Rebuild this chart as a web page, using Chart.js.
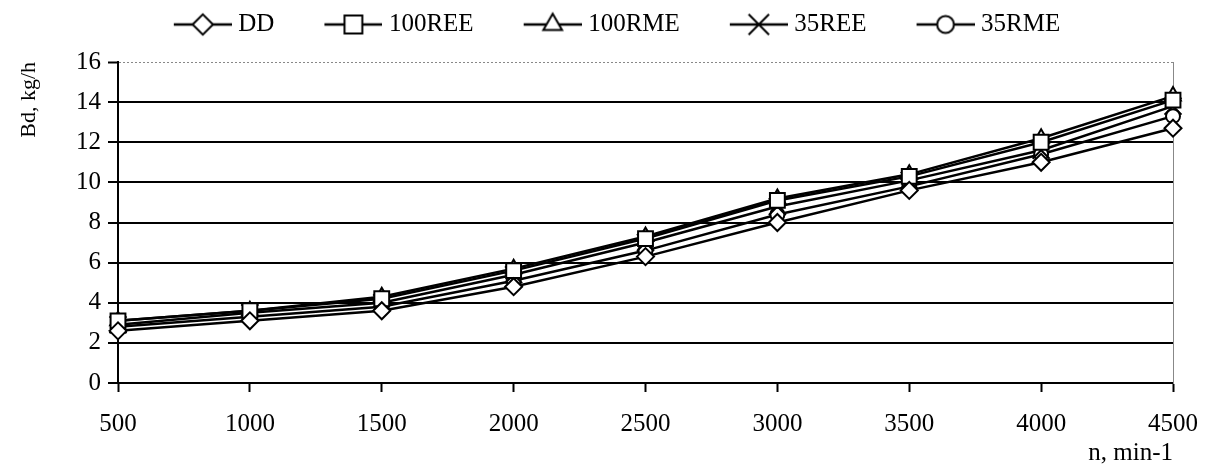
<!DOCTYPE html>
<html>
<head>
<meta charset="utf-8">
<script src="https://cdn.jsdelivr.net/npm/chart.js@4.4.0/dist/chart.umd.min.js"></script>
<style>
  html, body { margin: 0; padding: 0; background: #fff; }
</style>
</head>
<body>
<canvas id="chart" width="1210" height="466"></canvas>
<script>
// данні
const rpmLabels = ['500', '1000', '1500', '2000', '2500', '3000', '3500', '4000', '4500'];
const ddVals     = [2.6, 3.1, 3.6, 4.8, 6.3, 8.0, 9.6, 11.0, 12.7];
const ree100Vals = [3.1, 3.6, 4.2, 5.6, 7.2, 9.1, 10.3, 12.0, 14.1];
const rme100Vals = [3.1, 3.6, 4.3, 5.7, 7.3, 9.2, 10.4, 12.2, 14.3];
const ree35Vals  = [2.9, 3.5, 4.0, 5.4, 7.0, 8.8, 10.1, 11.6, 13.8];
const rme35Vals  = [2.8, 3.3, 3.8, 5.1, 6.6, 8.4, 9.8, 11.4, 13.3];
const seriesNames = ['DD', '100REE', '100RME', '35REE', '35RME'];
const yMin = 0, yMax = 16, yStep = 2;

const seriesData = [ddVals, ree100Vals, rme100Vals, ree35Vals, rme35Vals];
const markers = [
    { style: 'rectRot', r: 8.5 },
    { style: 'rect', r: 10.5 },
    { style: 'triangle', r: 9 },
    { style: 'crossRot', r: 12 },
    { style: 'circle', r: 7 }
];
const FONT = "'Liberation Serif', 'Times New Roman', serif";

// іконка легенди: лінія + маркер
function legendIcon(m) {
    const c = document.createElement('canvas');
    c.width = 64; c.height = 30;
    const g = c.getContext('2d');
    g.strokeStyle = '#000';
    g.lineWidth = 2.5;
    g.beginPath(); g.moveTo(6, 15); g.lineTo(64, 15); g.stroke();
    g.fillStyle = '#fff';
    g.lineWidth = 2;
    Chart.helpers.drawPoint(g, { pointStyle: m.style, radius: m.r * 1.2, borderWidth: 2, rotation: 0 }, 35, 15);
    return c;
}
const icons = markers.map(legendIcon);

// місце легенди як на оригіналі
const legendGap = {
    id: 'legendGap',
    beforeLayout(chart) {
        const lg = chart.legend;
        if (lg && !lg._gapPatched) {
            const fit = lg.fit;
            lg.fit = function () { fit.call(this); this.height = 100; };
            lg._gapPatched = true;
        }
    },
    afterLayout(chart) {
        const lg = chart.legend;
        lg.left = 0;
        lg.right = 1234;
    }
};

const lineSets = seriesData.map((d, i) => ({
    label: seriesNames[i] + ' line',
    data: d,
    borderColor: '#000',
    borderWidth: 2.5,
    pointRadius: 0,
    tension: 0,
    order: 1
}));
const markerSets = seriesData.map((d, i) => ({
    label: seriesNames[i],
    data: d,
    showLine: false,
    pointStyle: markers[i].style,
    pointRadius: markers[i].r,
    pointBackgroundColor: '#fff',
    pointBorderColor: '#000',
    pointBorderWidth: 2,
    clip: false,
    order: 0
}));

new Chart(document.getElementById('chart'), {
    type: 'line',
    data: { labels: rpmLabels, datasets: lineSets.concat(markerSets) },
    plugins: [legendGap],
    options: {
        responsive: false,
        animation: false,
        events: [],
        layout: { autoPadding: false, padding: { top: -38, right: 37, left: 0, bottom: 0 } },
        plugins: {
            tooltip: { enabled: false },
            legend: {
                position: 'top',
                labels: {
                    usePointStyle: true,
                    pointStyleWidth: 52,
                    boxHeight: 24,
                    padding: 50,
                    color: '#000',
                    font: { family: FONT, size: 25 },
                    generateLabels: () => seriesNames.map((n, i) => ({
                        text: n,
                        pointStyle: icons[i],
                        fillStyle: '#fff',
                        strokeStyle: '#000',
                        lineWidth: 0,
                        hidden: false,
                        fontColor: '#000',
                        datasetIndex: 5 + i
                    }))
                }
            }
        },
        scales: {
            x: {
                type: 'category',
                offset: false,
                grid: { drawOnChartArea: false, drawTicks: true, tickLength: 9, tickColor: '#000', tickWidth: 2, color: '#000' },
                border: { color: '#000', width: 2 },
                ticks: { color: '#000', font: { family: FONT, size: 25, lineHeight: 1.6 }, padding: 12, maxRotation: 0, autoSkip: false },
                title: { display: true, text: 'n, min-1', align: 'end', color: '#000', font: { family: FONT, size: 25, lineHeight: 1 }, padding: 0 },
                afterFit: s => { s.height = 83; }
            },
            y: {
                min: yMin, max: yMax,
                ticks: { stepSize: yStep, color: '#000', font: { family: FONT, size: 25 }, padding: 7 },
                grid: {
                    color: c => c.tick && c.tick.value === yMax ? '#888' : '#000',
                    lineWidth: c => c.tick && c.tick.value === yMax ? 1 : 2,
                    tickColor: '#000', tickLength: 10, tickWidth: 2
                },
                border: {
                    color: '#000', width: 2,
                    dash: c => c.tick && c.tick.value === yMax ? [2, 2] : []
                },
                title: { display: true, text: 'Bd, kg/h', align: 'end', color: '#000', font: { family: FONT, size: 22 }, padding: { top: 16, bottom: 0 } },
                afterFit: s => { s.width = 118; }
            },
            y2: {
                position: 'right',
                min: yMin, max: yMax,
                ticks: { display: false },
                grid: { display: false, drawTicks: false },
                border: { display: true, color: '#888', width: 1, dash: [2, 2] },
                afterFit: s => { s.width = 0; }
            }
        }
    }
});
</script>
</body>
</html>
